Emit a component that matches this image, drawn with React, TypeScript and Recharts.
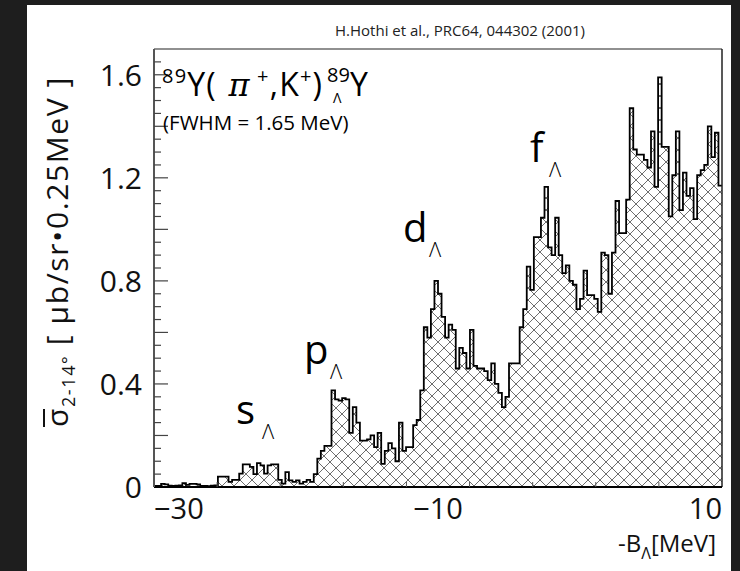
import React from "react";
import { AreaChart, Area, XAxis, YAxis, ReferenceLine } from "recharts";

// Excitation spectrum of 89Y(pi+,K+), 0.25 MeV bins from -30 MeV to 10 MeV
const E_MIN = -30;
const E_MAX = 10;
const BIN_WIDTH = 0.25;
const Y_MAX = 1.7;

// cross section per bin [ub/sr / 0.25 MeV]
const sigma = [
  0.004, 0.004, 0.012, 0.01, 0.005, 0.004, 0.005, 0.006, 0.015, 0.008,
  0.012, 0.012, 0.01, 0.004, 0.004, 0.003, 0.005, 0.006, 0.04, 0.04,
  0.04, 0.02, 0.028, 0.028, 0.052, 0.088, 0.088, 0.078, 0.05, 0.093,
  0.084, 0.052, 0.084, 0.088, 0.088, 0.028, 0.013, 0.058, 0.026, 0.02,
  0.026, 0.013, 0.02, 0.028, 0.02, 0.05, 0.11, 0.14, 0.16, 0.16,
  0.375, 0.34, 0.335, 0.345, 0.34, 0.21, 0.31, 0.25, 0.18, 0.18,
  0.185, 0.2, 0.155, 0.21, 0.09, 0.14, 0.17, 0.15, 0.1, 0.25,
  0.14, 0.155, 0.155, 0.24, 0.26, 0.375, 0.62, 0.58, 0.69, 0.8,
  0.75, 0.66, 0.58, 0.63, 0.61, 0.46, 0.54, 0.52, 0.46, 0.61,
  0.47, 0.46, 0.46, 0.45, 0.415, 0.48, 0.4, 0.365, 0.31, 0.35,
  0.48, 0.48, 0.48, 0.62, 0.69, 0.855, 0.765, 0.97, 0.97, 1.045,
  1.165, 0.93, 0.9, 1.045, 0.9, 0.83, 0.86, 0.8, 0.785, 0.69,
  0.73, 0.84, 0.745, 0.745, 0.73, 0.68, 0.91, 0.9, 0.75, 0.91,
  1.11, 0.985, 0.985, 1.115, 1.47, 1.31, 1.29, 1.29, 1.27, 1.24,
  1.38, 1.165, 1.59, 1.32, 1.32, 1.05, 1.21, 1.38, 1.075, 1.22,
  1.13, 1.16, 1.04, 1.21, 1.23, 1.25, 1.4, 1.28, 1.375, 1.17,
];

const Y_LABELS = [0, 0.4, 0.8, 1.2, 1.6];
const X_LABELS = [-30, -10, 10];
const X_DIVISIONS = 9;

// shell labels above the peaks
const shells = [
  { letter: "s", x: 236, y: 424 },
  { letter: "p", x: 304, y: 364 },
  { letter: "d", x: 403, y: 242 },
  { letter: "f", x: 530, y: 162 },
];

const SANS = "'Open Sans', 'Noto Sans', 'DejaVu Sans', sans-serif";

const yTicks: number[] = [];
for (let k = 0; k * 0.05 <= Y_MAX + 1e-9; k++) yTicks.push(+(k * 0.05).toFixed(2));

const xTicks: number[] = [];
for (let k = 0; k <= X_DIVISIONS; k++) xTicks.push(E_MIN + (k * (E_MAX - E_MIN)) / X_DIVISIONS);

const YTick = (props: any) => {
  const { x, y, payload } = props;
  const v = payload.value as number;
  const major = Math.abs(v * 5 - Math.round(v * 5)) < 1e-6;
  const label = Y_LABELS.find((l) => Math.abs(l - v) < 1e-6);
  return (
    <g>
      {v > 0 && v < Y_MAX && (
        <line x1={x} x2={x + (major ? 14 : 7)} y1={y} y2={y} stroke="#444" strokeWidth={1.2} />
      )}
      {label !== undefined && (
        <text x={x - 12} y={y + 11} textAnchor="end" fontSize={30} fontFamily={SANS} fill="#111">
          {label === 0 ? "0" : label.toFixed(1)}
        </text>
      )}
    </g>
  );
};

const XTick = (props: any) => {
  const { x, y, payload, index } = props;
  if (index === 0 || payload.value >= E_MAX) return <g />;
  return <line x1={x} x2={x} y1={y} y2={y - 5} stroke="#555" strokeWidth={1} />;
};

export default function App() {
  const data = sigma.map((v, i) => ({ e: E_MIN + i * BIN_WIDTH, v }));
  data.push({ e: E_MAX, v: sigma[sigma.length - 1] });

  const plotLeft = 154;
  const plotRight = 722;
  const plotTop = 49;
  const plotBottom = 487;
  const xPix = (e: number) => plotLeft + ((e - E_MIN) / (E_MAX - E_MIN)) * (plotRight - plotLeft);

  return (
    <div
      style={{
        position: "absolute",
        left: 0,
        top: 0,
        width: 740,
        height: 571,
        background: "#1e1e1e",
        overflow: "hidden",
      }}
    >
      <div style={{ position: "absolute", left: 27, top: 5, width: 704, height: 566, background: "#fff" }} />
      <div style={{ position: "absolute", left: 0, top: 0 }}>
        <AreaChart
          width={740}
          height={571}
          data={data}
          margin={{ top: plotTop, right: 740 - plotRight, bottom: 571 - plotBottom - 1, left: plotLeft - 1 }}
        >
          <defs>
            <pattern id="xhatch" width="12" height="12" patternUnits="userSpaceOnUse">
              <rect width="12" height="12" fill="#fff" />
              <path d="M0,0 L12,12 M12,0 L0,12" stroke="#5e5e5e" strokeWidth={0.9} />
            </pattern>
          </defs>
          <XAxis
            dataKey="e"
            type="number"
            domain={[E_MIN, E_MAX]}
            ticks={xTicks}
            interval={0}
            tick={XTick}
            tickLine={false}
            tickSize={0}
            tickMargin={0}
            height={1}
            allowDataOverflow
            axisLine={{ stroke: "#000", strokeWidth: 2 }}
          />
          <YAxis
            type="number"
            domain={[0, Y_MAX]}
            ticks={yTicks}
            interval={0}
            tick={YTick}
            tickLine={false}
            tickSize={0}
            tickMargin={0}
            width={1}
            allowDataOverflow
            axisLine={{ stroke: "#555", strokeWidth: 2 }}
          />
          <ReferenceLine y={Y_MAX} stroke="#222" strokeWidth={1.2} />
          <ReferenceLine x={E_MAX} stroke="#222" strokeWidth={1.5} />
          <Area
            type="stepAfter"
            dataKey="v"
            stroke="#000"
            strokeWidth={1.8}
            fill="url(#xhatch)"
            fillOpacity={1}
            baseValue={0}
            isAnimationActive={false}
            dot={false}
            activeDot={false}
          />
        </AreaChart>
      </div>
      <svg
        width={740}
        height={571}
        style={{ position: "absolute", left: 0, top: 0, pointerEvents: "none" }}
        fontFamily={SANS}
      >
        <text x={460} y={36} textAnchor="middle" fontSize={15} fill="#222">
          H.Hothi et al., PRC64, 044302 (2001)
        </text>

        {/* reaction: 89Y(pi+,K+)89_Lambda Y */}
        <text x={162} y={96} fontSize={32} letterSpacing={1.2} fill="#000">
          <tspan fontSize={20} dy={-13}>89</tspan>
          <tspan dy={13}>Y(</tspan>
          <tspan fontStyle="italic" fontFamily="'DejaVu Serif', serif"> π</tspan>
          <tspan fontSize={20} dy={-13}> +</tspan>
          <tspan dy={13}>,K</tspan>
          <tspan fontSize={20} dy={-13}>+</tspan>
          <tspan dy={13}>)</tspan>
        </text>
        <text fill="#000">
          <tspan x={327} y={82} fontSize={20}>89</tspan>
          <tspan x={333} y={103} fontSize={14}>Λ</tspan>
          <tspan x={350} y={96} fontSize={32}>Y</tspan>
        </text>
        <text x={163} y={130} fontSize={20.5} fill="#000">
          (FWHM = 1.65  MeV)
        </text>

        {shells.map((s) => (
          <g key={s.letter}>
            <text x={s.x} y={s.y} fontSize={40} fill="#000">{s.letter}</text>
            <text x={s.x + (s.letter === "f" ? 19 : 26)} y={s.y + 15} fontSize={21} fill="#000" fontWeight={300}>Λ</text>
          </g>
        ))}

        {/* x axis labels */}
        {X_LABELS.map((v) => (
          <text
            key={v}
            x={xPix(v)}
            y={plotBottom + 32}
            textAnchor={v === E_MIN ? "start" : v === E_MAX ? "end" : "middle"}
            fontSize={29}
            fill="#111"
          >
            {v < 0 ? `−${-v}` : v}
          </text>
        ))}
        <text x={716} y={552} textAnchor="end" fontSize={24} fill="#111">
          -B<tspan fontSize={16} dy={7}>Λ</tspan>
          <tspan dy={-7}>[MeV]</tspan>
        </text>

        {/* y axis title */}
        <g transform="rotate(-90)">
          <text x={-427} y={68} fontSize={30} letterSpacing={1.6} fill="#111">
            σ<tspan fontSize={18} dy={7}>2-14°</tspan>
            <tspan dy={-7}> [ μb/sr•0.25MeV ]</tspan>
          </text>
          <line x1={-427} x2={-409} y1={44} y2={44} stroke="#111" strokeWidth={2} />
        </g>
      </svg>
    </div>
  );
}
